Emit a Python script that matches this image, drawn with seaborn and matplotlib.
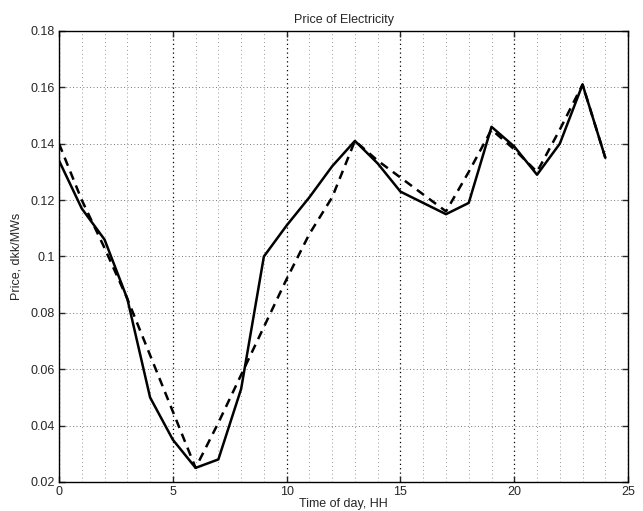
import pandas as pd
import matplotlib
matplotlib.use("Agg")
import matplotlib.pyplot as plt
import seaborn as sns
from matplotlib.ticker import MultipleLocator

# hourly prices
hours = list(range(25))
price_actual = [0.134, 0.117, 0.106, 0.085, 0.050, 0.035, 0.025, 0.028, 0.053,
                0.100, 0.111, 0.121, 0.132, 0.141, 0.133, 0.123, 0.119, 0.115,
                0.119, 0.146, 0.139, 0.129, 0.140, 0.161, 0.135]
price_forecast = [0.140, 0.120, 0.103, 0.085, 0.065, 0.045, 0.025, 0.041, 0.058,
                  0.075, 0.092, 0.108, 0.121, 0.141, 0.134, 0.128, 0.122, 0.116,
                  0.130, 0.145, 0.138, 0.130, 0.145, 0.161, 0.135]

df = pd.DataFrame({
    'hour': hours * 2,
    'price': price_actual + price_forecast,
    'serie': ['actual'] * 25 + ['forecast'] * 25,
})

sns.set_style("ticks")
plt.rcParams['font.family'] = ['Liberation Sans', 'DejaVu Sans']
plt.rcParams['font.size'] = 9

fig = plt.figure(figsize=(6.43, 5.11), dpi=100)
ax = fig.add_axes([0.0918, 0.0568, 0.885, 0.8826])

sns.lineplot(data=df, x='hour', y='price', style='serie', color='black',
             linewidth=1.8, dashes={'actual': '', 'forecast': (3.5, 2.5)},
             legend=False, ax=ax)

ax.set_xlim(0, 25)
ax.set_ylim(0.02, 0.18)
ax.xaxis.set_major_locator(MultipleLocator(5))
ax.xaxis.set_minor_locator(MultipleLocator(1))
ax.set_yticks([0.02, 0.04, 0.06, 0.08, 0.1, 0.12, 0.14, 0.16, 0.18])
ax.set_yticklabels(['0.02', '0.04', '0.06', '0.08', '0.1', '0.12', '0.14', '0.16', '0.18'])

ax.grid(which='major', axis='x', color='black', linestyle=(0, (1, 2.5)), linewidth=0.9)
ax.grid(which='minor', axis='x', color='#999999', linestyle=(0, (1, 3)), linewidth=0.7)
ax.grid(which='major', axis='y', color='#777777', linestyle=(0, (1, 2.5)), linewidth=0.7)

ax.tick_params(which='major', direction='in', top=True, right=True, length=4,
               width=1, labelsize=9, pad=3)
ax.tick_params(which='minor', length=0)
for s in ax.spines.values():
    s.set_linewidth(1.0)
    s.set_color('black')

ax.set_title('Price of Electricity', fontsize=9, pad=6)
ax.set_xlabel('Time of day, HH', fontsize=9, labelpad=0)
ax.set_ylabel('Price, dkk/MWs', fontsize=9, labelpad=6)

fig.savefig('out.png', dpi=100)
